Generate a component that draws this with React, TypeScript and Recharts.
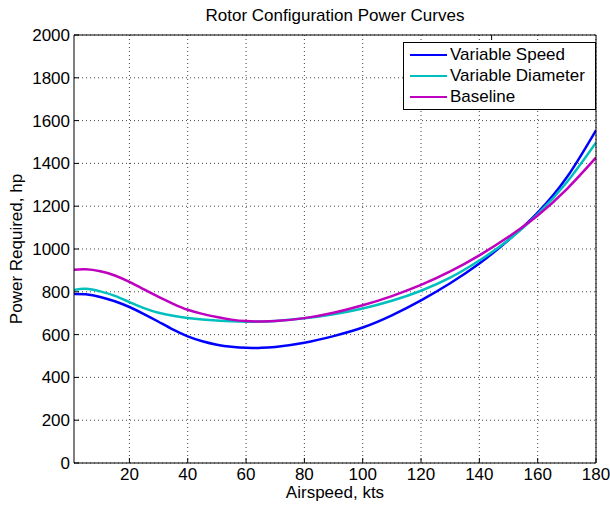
import React from 'react';
import { LineChart, Line, XAxis, YAxis, CartesianGrid } from 'recharts';

// airspeed samples (kts)
const airspeed = [1, 5, 10, 15, 20, 25, 30, 35, 40, 45, 50, 55, 60, 65, 70, 80, 90, 100, 110, 120, 130, 140, 150, 160, 170, 180];

// power required (hp)
const variableSpeed = [790, 788, 776, 756, 729, 696, 660, 623, 592, 569, 553, 543, 538, 538, 542, 562, 593, 633, 690, 760, 840, 932, 1042, 1170, 1335, 1555];
const variableDiameter = [808, 814, 802, 781, 752, 724, 702, 688, 678, 671, 666, 662, 660, 661, 664, 676, 695, 722, 758, 805, 866, 946, 1042, 1163, 1312, 1497];
const baseline = [903, 905, 896, 876, 846, 811, 776, 744, 716, 697, 682, 670, 663, 661, 663, 677, 702, 737, 780, 832, 895, 970, 1057, 1157, 1280, 1427];

const xTicks = [20, 40, 60, 80, 100, 120, 140, 160, 180];
const yTicks = [0, 200, 400, 600, 800, 1000, 1200, 1400, 1600, 1800, 2000];

const SERIES = [
  { key: 'speed', name: 'Variable Speed', color: '#0000ff', values: variableSpeed },
  { key: 'diameter', name: 'Variable Diameter', color: '#00bfbf', values: variableDiameter },
  { key: 'base', name: 'Baseline', color: '#bf00bf', values: baseline },
];

const FONT = '"Liberation Sans", Arial, Helvetica, sans-serif';

const data = airspeed.map((v, i) => {
  const row: { [k: string]: number } = { airspeed: v };
  SERIES.forEach(s => { row[s.key] = s.values[i]; });
  return row;
});

// legend drawn as an overlay so it doesn't eat into the plot area
const LegendBox = () => (
  <div style={{ position: 'absolute', left: 403, top: 42, width: 185, border: '1px solid #000', background: '#fff', padding: '1px 0 2px 6px', fontFamily: FONT, fontSize: 17 }}>
    {SERIES.map(s => (
      <div key={s.key} style={{ display: 'flex', alignItems: 'center', height: 21 }}>
        <span style={{ display: 'inline-block', width: 37, height: 0, borderTop: `2.5px solid ${s.color}`, marginRight: 3 }} />
        <span>{s.name}</span>
      </div>
    ))}
  </div>
);

const NoTick = () => <g />;

export default function App() {
  return (
    <div style={{ position: 'absolute', left: 0, top: 0, width: 610, height: 506, background: '#fff' }}>
      <LineChart width={610} height={506} data={data} margin={{ top: 30, right: 0, bottom: 0, left: 0 }} style={{ fontFamily: FONT }}>
        <CartesianGrid stroke="#444" strokeDasharray="1 3" horizontalValues={yTicks} verticalValues={xTicks} />
        <XAxis
          dataKey="airspeed"
          type="number"
          domain={[1, 180]}
          ticks={xTicks}
          allowDataOverflow
          height={43}
          tickSize={-5}
          tickMargin={10}
          stroke="#000"
          tick={{ fill: '#000', fontSize: 17 }}
          label={{ value: 'Airspeed, kts', position: 'insideBottom', offset: 8, fill: '#000', fontSize: 17 }}
        />
        <XAxis xAxisId="top" orientation="top" type="number" domain={[1, 180]} ticks={xTicks} allowDataOverflow height={5} tickSize={-5} stroke="#000" tick={NoTick} />
        <YAxis
          type="number"
          domain={[0, 2000]}
          ticks={yTicks}
          width={74}
          tickSize={-5}
          tickMargin={9}
          stroke="#000"
          tick={{ fill: '#000', fontSize: 17 }}
          label={{ value: 'Power Required, hp', angle: -90, position: 'insideLeft', offset: 16, style: { textAnchor: 'middle' }, fill: '#000', fontSize: 17 }}
        />
        <YAxis yAxisId="right" orientation="right" type="number" domain={[0, 2000]} ticks={yTicks} width={14} tickSize={-5} stroke="#000" tick={NoTick} />
        {SERIES.map(s => (
          <Line key={s.key} dataKey={s.key} name={s.name} type="natural" stroke={s.color} strokeWidth={2.5} dot={false} isAnimationActive={false} />
        ))}
      </LineChart>
      <div style={{ position: 'absolute', left: 74, width: 522, top: 6, textAlign: 'center', fontFamily: FONT, fontSize: 17 }}>
        Rotor Configuration Power Curves
      </div>
      <LegendBox />
    </div>
  );
}
